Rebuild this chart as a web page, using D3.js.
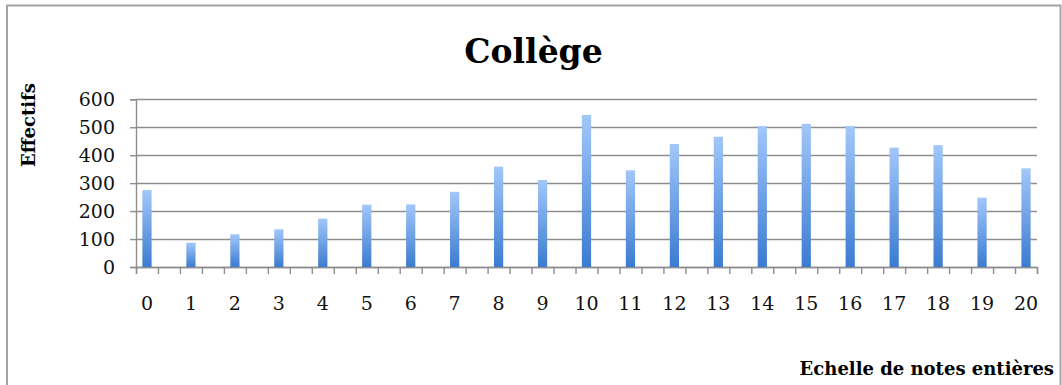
<!DOCTYPE html>
<html><head><meta charset="utf-8">
<script src="https://cdn.jsdelivr.net/npm/d3@7"></script>
<style>html,body{margin:0;padding:0;background:#fff;} svg{display:block;}</style>
</head><body>
<svg id="c" width="1062" height="385"></svg>
<script>
const title = "Collège";
const yTitle = "Effectifs";
const xTitle = "Echelle de notes entières";
const notes = [0,1,2,3,4,5,6,7,8,9,10,11,12,13,14,15,16,17,18,19,20];
const effectifs = [275,87,117,135,173,223,224,269,359,311,544,346,440,466,504,512,504,427,436,248,353];
const yTicks = [0,100,200,300,400,500,600];

const W = 1062, H = 385;
const m = {left:136, right:1037, top:99.3, bottom:267};
const svg = d3.select("#c");
const font = "'DejaVu Serif', serif";

svg.append("rect").attr("width",W).attr("height",H).attr("fill","#fff");
svg.append("rect").attr("x",7).attr("y",5.5).attr("width",1053.5).attr("height",385)
  .attr("fill","none").attr("stroke","#a3a3a3").attr("stroke-width",2);

const x = d3.scaleLinear().domain([-0.25, 20.25]).range([m.left, m.right]);
const y = d3.scaleLinear().domain([0, 600]).range([m.bottom, m.top]);

const defs = svg.append("defs");
const g = defs.append("linearGradient").attr("id","bg").attr("x1",0).attr("x2",0).attr("y1",0).attr("y2",1);
g.append("stop").attr("offset","0%").attr("stop-color","#a2c7fa");
g.append("stop").attr("offset","100%").attr("stop-color","#3b7bd0");

// gridlines
svg.append("g").selectAll("line").data(yTicks).join("line")
  .attr("x1",m.left).attr("x2",m.right)
  .attr("y1",d=>Math.round(y(d))+0.5).attr("y2",d=>Math.round(y(d))+0.5)
  .attr("stroke","#8e8e8e").attr("stroke-width",1.4);

// y axis
const ya = svg.append("g").attr("transform",`translate(${m.left},0)`)
  .call(d3.axisLeft(y).tickValues(yTicks).tickSize(6).tickPadding(15).tickFormat(d3.format("d")));
ya.select(".domain").attr("stroke","#8e8e8e").attr("stroke-width",1.4);
ya.selectAll(".tick line").attr("stroke","#8e8e8e").attr("stroke-width",1.4);
ya.selectAll(".tick text").attr("font-family",font).attr("font-size",19).attr("fill","#111");

// x axis ticks at half steps
const halfTicks = d3.range(-0.25, 20.26, 0.5);
const xa = svg.append("g").attr("transform",`translate(0,${m.bottom})`)
  .call(d3.axisBottom(x).tickValues(halfTicks).tickSize(7).tickFormat(""));
xa.select(".domain").attr("stroke","#8e8e8e").attr("stroke-width",1.4);
xa.selectAll(".tick line").attr("stroke","#8e8e8e").attr("stroke-width",1.4);

// x labels
svg.append("g").selectAll("text").data(notes).join("text")
  .attr("x",d=>x(d)).attr("y",310).attr("text-anchor","middle")
  .attr("font-family",font).attr("font-size",19).attr("fill","#111").text(d=>d);

// bars
const bw = x(0.105) - x(0);
svg.append("g").selectAll("rect").data(notes).join("rect")
  .attr("x",d=>x(d)-bw).attr("width",bw*2)
  .attr("y",(d,i)=>y(effectifs[i])).attr("height",(d,i)=>y(0)-y(effectifs[i]))
  .attr("fill","url(#bg)");

// titles
svg.append("text").attr("x",533.5).attr("y",63).attr("text-anchor","middle")
  .attr("font-family",font).attr("font-weight","bold").attr("font-size",33).attr("fill","#000").text(title);
svg.append("text").attr("transform","translate(35,125) rotate(-90)").attr("text-anchor","middle")
  .attr("font-family",font).attr("font-weight","bold").attr("font-size",18).attr("fill","#000").text(yTitle);
svg.append("text").attr("x",1054).attr("y",375).attr("text-anchor","end")
  .attr("font-family",font).attr("font-weight","bold").attr("font-size",18).attr("fill","#000").text(xTitle);
</script>
</body></html>
